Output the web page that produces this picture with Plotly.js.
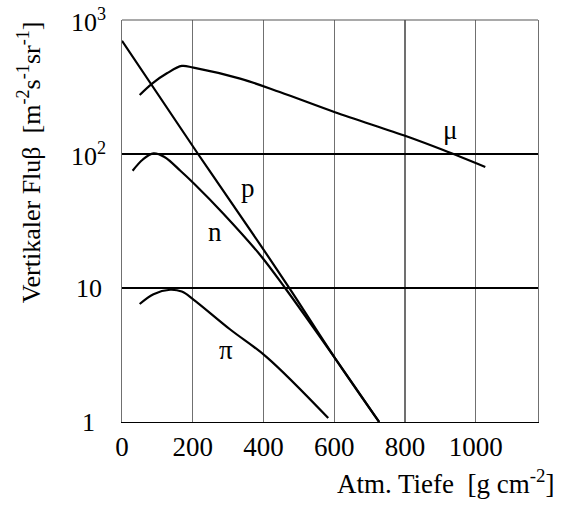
<!DOCTYPE html>
<html>
<head>
<meta charset="utf-8">
<script src="https://cdn.plot.ly/plotly-3.0.1.min.js"></script>
<style>
  html, body { margin: 0; padding: 0; background: #fff; }
  #chart { width: 561px; height: 506px; }
</style>
</head>
<body>
<div id="chart"></div>
<script>
// Atmospheric depth [g cm^-2] and vertical flux [m^-2 s^-1 sr^-1]
const muDepth = [50, 86, 127, 169, 202, 334, 446, 602, 806, 908, 1027];
const muFlux  = [276, 337, 400, 454, 441, 365, 290, 205, 135, 107, 80];

const pDepth = [0, 215, 391, 475, 602, 727];
const pFlux  = [700, 100, 21, 9.8, 3.0, 1.0];

const nDepth = [30, 59, 89, 120, 165, 204, 286, 390, 461, 602, 727];
const nFlux  = [75, 91, 101, 95, 75, 60, 36, 17.7, 10, 3.0, 1.0];

const piDepth = [50, 89, 136, 169, 202, 306, 409, 583];
const piFlux  = [7.6, 9.0, 9.7, 9.4, 8.2, 4.9, 3.05, 1.07];

const xTickVals = [0, 200, 400, 600, 800, 1000];
const xTickText = ['0', '200', '400', '600', '800', '1000'];
const yTickVals = [1, 10, 100, 1000];
const yTickText = ['1', '10', '10<sup>2</sup>', '10<sup>3</sup>'];

const curveLabels = ['\u03bc', 'p', 'n', '\u03c0'];
const labelDepth = [927, 356, 263, 294];
const labelFlux  = [151, 56, 26, 3.46];

const FONT = 'Liberation Serif';

function curve(x, y) {
  return {
    x: x, y: y, type: 'scatter', mode: 'lines',
    line: {color: '#000', width: 2.2, shape: 'spline', smoothing: 1.0},
    hoverinfo: 'skip', showlegend: false
  };
}

const data = [
  curve(muDepth, muFlux),
  curve(pDepth, pFlux),
  curve(nDepth, nFlux),
  curve(piDepth, piFlux)
];

const annotations = [];
yTickVals.forEach((v, i) => {
  annotations.push({
    xref: 'paper', yref: 'y', x: -0.08, y: Math.log10(v),
    text: yTickText[i], showarrow: false, xanchor: 'center', yanchor: 'middle',
    font: {family: FONT, size: 26, color: '#000'}
  });
});
curveLabels.forEach((t, i) => {
  annotations.push({
    xref: 'x', yref: 'y', x: labelDepth[i], y: Math.log10(labelFlux[i]),
    text: t, showarrow: false, xanchor: 'center', yanchor: 'middle',
    font: {family: FONT, size: 27, color: '#000'}
  });
});
annotations.push({
  xref: 'paper', yref: 'paper', x: 1.045, y: -0.15,
  text: 'Atm. Tiefe  [g cm<sup>-2</sup>]', showarrow: false,
  xanchor: 'right', yanchor: 'middle',
  font: {family: FONT, size: 27, color: '#000'}
});
annotations.push({
  xref: 'paper', yref: 'paper', x: -0.222, y: 0.645,
  text: 'Vertikaler Flu\u03b2  [m<sup>-2</sup>s<sup>-1</sup>sr<sup>-1</sup>]',
  showarrow: false, textangle: -90, xanchor: 'center', yanchor: 'middle',
  font: {family: FONT, size: 26, color: '#000'}
});

const layout = {
  width: 561, height: 506,
  margin: {l: 122, r: 23, t: 20, b: 84},
  paper_bgcolor: '#fff', plot_bgcolor: '#fff',
  font: {family: FONT, size: 26, color: '#000'},
  xaxis: {
    range: [0, 1176], tickmode: 'array', tickvals: xTickVals, ticktext: xTickText,
    showgrid: true, gridcolor: '#707070', gridwidth: 1.2,
    showline: true, linecolor: '#000', linewidth: 1.2, mirror: false,
    zeroline: false, ticks: '', ticklen: 0,
    tickfont: {family: FONT, size: 27, color: '#000'}
  },
  yaxis: {
    type: 'log', range: [0, 3], tickmode: 'array', tickvals: yTickVals,
    showticklabels: false,
    showgrid: true, gridcolor: '#000', gridwidth: 1.1,
    showline: true, linecolor: '#707070', linewidth: 1.2, mirror: true,
    zeroline: false, ticks: ''
  },
  shapes: [{
    type: 'line', xref: 'paper', yref: 'paper', x0: 0, x1: 1, y0: 1, y1: 1,
    line: {color: '#555', width: 1.2}
  }],
  annotations: annotations
};

Plotly.newPlot('chart', data, layout, {displayModeBar: false, staticPlot: true});
</script>
</body>
</html>
